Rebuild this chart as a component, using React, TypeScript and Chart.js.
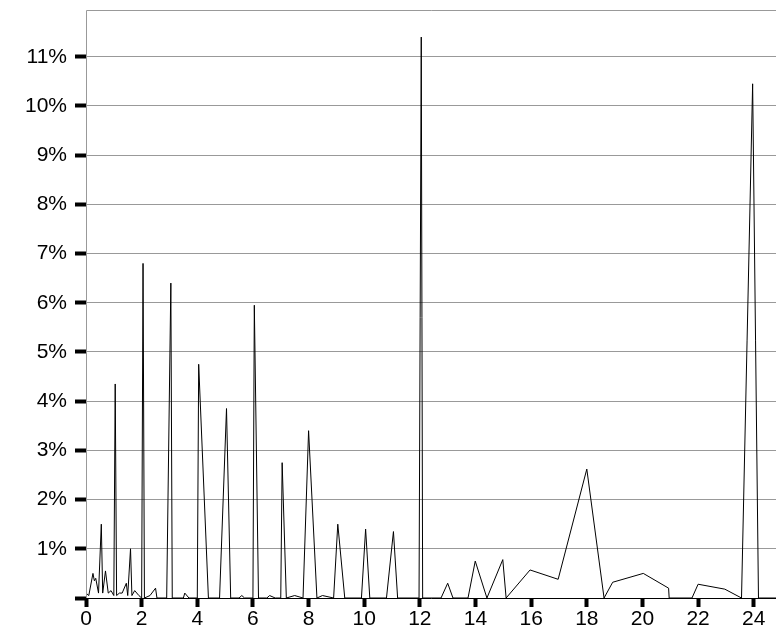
import { useRef, useEffect } from "react"
import { Chart, registerables, type ChartConfiguration } from "chart.js"

Chart.register(...registerables)

// hour of day (x) and share of events in percent (y)
const hours = [
  0, 0.1, 0.25, 0.3, 0.35, 0.45, 0.55, 0.6, 0.7, 0.8, 0.9, 1.0, 1.05, 1.1, 1.2, 1.3, 1.45, 1.5, 1.6, 1.65,
  1.75, 1.9, 2.0, 2.05, 2.1, 2.3, 2.5, 2.55, 2.9, 3.05, 3.1, 3.5, 3.55, 3.7, 4.0, 4.05, 4.4, 4.8, 5.05, 5.2,
  5.5, 5.6, 5.7, 6.0, 6.05, 6.2, 6.5, 6.6, 6.8, 7.0, 7.05, 7.2, 7.5, 7.8, 8.0, 8.3, 8.5, 8.9, 9.05, 9.3,
  9.9, 10.05, 10.2, 10.8, 11.05, 11.2, 11.97, 12.05, 12.1, 12.76, 13.0, 13.19, 13.73, 13.99, 14.41, 14.98,
  15.1, 15.96, 16.97, 18.0, 18.62, 18.93, 20.03, 20.94, 20.96, 21.78, 22.0, 22.96, 23.56, 23.96, 24.17, 24.8,
]
const shares = [
  0.1, 0.05, 0.5, 0.35, 0.4, 0.1, 1.5, 0.1, 0.55, 0.1, 0.15, 0.05, 4.35, 0.05, 0.1, 0.1, 0.3, 0.05, 1.0, 0.05,
  0.15, 0.05, 0, 6.8, 0, 0.05, 0.2, 0, 0, 6.4, 0, 0, 0.1, 0, 0, 4.75, 0, 0, 3.85, 0,
  0, 0.05, 0, 0, 5.95, 0, 0, 0.05, 0, 0, 2.75, 0, 0.05, 0, 3.4, 0, 0.05, 0, 1.5, 0,
  0, 1.4, 0, 0, 1.35, 0, 0, 11.4, 0, 0, 0.3, 0, 0, 0.75, 0, 0.78,
  0, 0.57, 0.38, 2.62, 0, 0.32, 0.5, 0.2, 0, 0, 0.28, 0.18, 0, 10.45, 0, 0,
]
const xTicks = [0, 2, 4, 6, 8, 10, 12, 14, 16, 18, 20, 22, 24]
const yTicks = [0, 1, 2, 3, 4, 5, 6, 7, 8, 9, 10, 11]

const frame = {
  id: "frame",
  afterDraw(chart: Chart) {
    const { ctx, chartArea: a } = chart
    ctx.save()
    ctx.strokeStyle = "#999"
    ctx.lineWidth = 1
    ctx.beginPath()
    ctx.moveTo(a.left + 0.5, a.bottom)
    ctx.lineTo(a.left + 0.5, a.top + 0.5)
    ctx.lineTo(a.right, a.top + 0.5)
    ctx.stroke()
    ctx.restore()
  },
}

export default function App() {
  const chartRef = useRef<HTMLCanvasElement>(null)
  const chartInstance = useRef<Chart | null>(null)

  useEffect(() => {
    if (!chartRef.current) return
    const font = { family: "Liberation Sans, Arial, sans-serif", size: 21 }
    const config: ChartConfiguration = {
      type: "line",
      data: {
        datasets: [
          {
            data: hours.map((h, i) => ({ x: h, y: shares[i] })),
            borderColor: "#000",
            borderWidth: 1,
            pointRadius: 0,
            tension: 0,
          },
        ],
      },
      options: {
        animation: false,
        responsive: false,
        layout: { padding: 0 },
        plugins: { legend: { display: false }, tooltip: { enabled: false } },
        scales: {
          x: {
            type: "linear",
            min: 0,
            max: 24.8,
            border: { color: "#000", width: 1 },
            grid: { drawOnChartArea: false, tickColor: "#000", tickWidth: 4, tickLength: 9 },
            ticks: { color: "#000", font, padding: 0, maxRotation: 0, autoSkip: false },
            afterBuildTicks: (s) => { s.ticks = xTicks.map((v) => ({ value: v })) },
            afterFit: (s) => { s.height = 34; s.paddingRight = 0 },
          },
          y: {
            type: "linear",
            min: 0,
            max: 11.95,
            border: { display: false },
            grid: { color: "#999", tickColor: "#000", tickWidth: 4, tickLength: 11 },
            ticks: { color: "#000", font, padding: 8, autoSkip: false,
              callback: (v) => (Number(v) === 0 ? "" : v + "%") },
            afterBuildTicks: (s) => { s.ticks = yTicks.map((v) => ({ value: v })) },
            afterFit: (s) => { s.width = 86; s.paddingTop = 10 },
          },
        },
      },
      plugins: [frame],
    }
    chartInstance.current = new Chart(chartRef.current, config)
    return () => {
      chartInstance.current?.destroy()
      chartInstance.current = null
    }
  }, [])

  return (
    <div style={{ position: "absolute", left: 0, top: 0, width: 776, height: 632, background: "#fff" }}>
      <canvas ref={chartRef} width={776} height={632}></canvas>
    </div>
  )
}
